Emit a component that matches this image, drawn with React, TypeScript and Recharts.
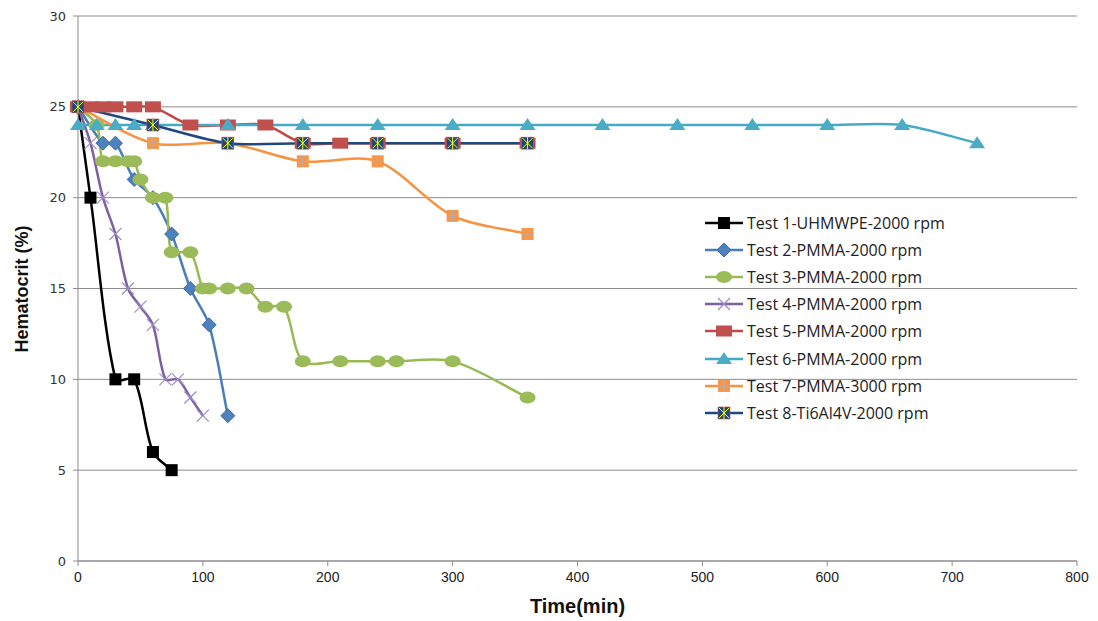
import React from "react";
import {
  LineChart,
  Line,
  XAxis,
  YAxis,
  CartesianGrid,
  Label,
} from "recharts";

const xTicks = [0, 100, 200, 300, 400, 500, 600, 700, 800];
const yTicks = [0, 5, 10, 15, 20, 25, 30];

const t1 = [0, 10, 30, 45, 60, 75];
const v1 = [25, 20, 10, 10, 6, 5];
const t2 = [0, 20, 30, 45, 60, 75, 90, 105, 120];
const v2 = [25, 23, 23, 21, 20, 18, 15, 13, 8];
const t3 = [0, 15, 20, 30, 40, 45, 50, 60, 70, 75, 90, 100, 105, 120, 135, 150, 165, 180, 210, 240, 255, 300, 360];
const v3 = [25, 24, 22, 22, 22, 22, 21, 20, 20, 17, 17, 15, 15, 15, 15, 14, 14, 11, 11, 11, 11, 11, 9];
const t4 = [0, 10, 20, 30, 40, 50, 60, 70, 80, 90, 100];
const v4 = [25, 23, 20, 18, 15, 14, 13, 10, 10, 9, 8];
const t5 = [0, 10, 20, 30, 45, 60, 90, 120, 150, 180, 210, 240, 300, 360];
const v5 = [25, 25, 25, 25, 25, 25, 24, 24, 24, 23, 23, 23, 23, 23];
const t6 = [0, 15, 30, 45, 60, 120, 180, 240, 300, 360, 420, 480, 540, 600, 660, 720];
const v6 = [24, 24, 24, 24, 24, 24, 24, 24, 24, 24, 24, 24, 24, 24, 24, 23];
const t7 = [0, 60, 120, 180, 240, 300, 360];
const v7 = [25, 23, 23, 22, 22, 19, 18];
const t8 = [0, 60, 120, 180, 240, 300, 360];
const v8 = [25, 24, 23, 23, 23, 23, 23];

const names = [
  "Test 1-UHMWPE-2000 rpm",
  "Test 2-PMMA-2000 rpm",
  "Test 3-PMMA-2000 rpm",
  "Test 4-PMMA-2000 rpm",
  "Test 5-PMMA-2000 rpm",
  "Test 6-PMMA-2000 rpm",
  "Test 7-PMMA-3000 rpm",
  "Test 8-Ti6Al4V-2000 rpm",
];

const toRows = (ts: number[], vs: number[]) => ts.map((t, i) => ({ t, v: vs[i] }));

// smoothed line like excel: tangent from neighbours, scaled by chord lengths
const smooth = (context: any) => {
  let pts: number[][] = [];
  const dist = (a: number[], b: number[]) => Math.hypot(b[0] - a[0], b[1] - a[1]);
  return {
    areaStart() {},
    areaEnd() {},
    lineStart() {
      pts = [];
    },
    point(x: number, y: number) {
      pts.push([+x, +y]);
    },
    lineEnd() {
      if (!pts.length) return;
      context.moveTo(pts[0][0], pts[0][1]);
      for (let i = 0; i < pts.length - 1; i++) {
        const p0 = pts[i - 1] || pts[i];
        const p1 = pts[i];
        const p2 = pts[i + 1];
        const p3 = pts[i + 2] || pts[i + 1];
        const d01 = dist(p0, p1);
        const d12 = dist(p1, p2);
        const d23 = dist(p2, p3);
        const a = d01 + d12 > 0 ? d12 / (d01 + d12) / 2 : 0;
        const b = d12 + d23 > 0 ? d12 / (d12 + d23) / 2 : 0;
        context.bezierCurveTo(
          p1[0] + (p2[0] - p0[0]) * a * 0.6,
          p1[1] + (p2[1] - p0[1]) * a * 0.6,
          p2[0] - (p3[0] - p1[0]) * b * 0.6,
          p2[1] - (p3[1] - p1[1]) * b * 0.6,
          p2[0],
          p2[1]
        );
      }
    },
  };
};

function Marker({ kind, cx, cy }: { kind: number; cx: number; cy: number }) {
  switch (kind) {
    case 0:
      return <rect x={cx - 6} y={cy - 6} width={12} height={12} fill="#000" />;
    case 1:
      return (
        <polygon
          points={`${cx},${cy - 7} ${cx + 7},${cy} ${cx},${cy + 7} ${cx - 7},${cy}`}
          fill="#4F81BD"
          stroke="#3A6CA8"
        />
      );
    case 2:
      return <ellipse cx={cx} cy={cy} rx={8} ry={6} fill="#9BBB59" />;
    case 3:
      return (
        <g stroke="#A08CC4" strokeWidth={1.2}>
          <line x1={cx - 6} y1={cy - 6} x2={cx + 6} y2={cy + 6} />
          <line x1={cx - 6} y1={cy + 6} x2={cx + 6} y2={cy - 6} />
        </g>
      );
    case 4:
      return <rect x={cx - 8} y={cy - 5.5} width={16} height={11} fill="#C0504D" />;
    case 5:
      return (
        <polygon
          points={`${cx},${cy - 7} ${cx + 8},${cy + 5} ${cx - 8},${cy + 5}`}
          fill="#4BACC6"
        />
      );
    case 6:
      return (
        <g>
          <rect x={cx - 6} y={cy - 6} width={12} height={12} fill="#F79646" />
          <line x1={cx} y1={cy - 6} x2={cx} y2={cy + 6} stroke="#9DB3CF" />
          <line x1={cx - 6} y1={cy} x2={cx + 6} y2={cy} stroke="#9DB3CF" />
        </g>
      );
    default:
      return (
        <g>
          <rect x={cx - 6} y={cy - 6} width={12} height={12} fill="#1F497D" stroke="#C0504D" strokeWidth={0.6} />
          <g stroke="#FFFF00" strokeWidth={1}>
            <line x1={cx - 5} y1={cy - 5} x2={cx + 5} y2={cy + 5} />
            <line x1={cx - 5} y1={cy + 5} x2={cx + 5} y2={cy - 5} />
            <line x1={cx} y1={cy - 6} x2={cx} y2={cy + 6} />
          </g>
        </g>
      );
  }
}

const series = [
  { data: toRows(t1, v1), color: "#000000" },
  { data: toRows(t2, v2), color: "#4A7EBB" },
  { data: toRows(t3, v3), color: "#98B954" },
  { data: toRows(t4, v4), color: "#7D60A0" },
  { data: toRows(t5, v5), color: "#BE4B48" },
  { data: toRows(t6, v6), color: "#46AAC5" },
  { data: toRows(t7, v7), color: "#F69240" },
  { data: toRows(t8, v8), color: "#1F497D" },
];

const LegendBox = () => (
  <div
    style={{
      position: "absolute",
      left: 696,
      top: 201,
      fontFamily: "'Open Sans', sans-serif",
      fontSize: 16,
      color: "#222",
    }}
  >
    {names.map((n, i) => (
      <div key={n} style={{ height: 27.2, display: "flex", alignItems: "center", whiteSpace: "nowrap" }}>
        <svg width={40} height={16} style={{ marginRight: 3 }}>
          <line x1={1} y1={8} x2={39} y2={8} stroke={series[i].color} strokeWidth={2.5} />
          <Marker kind={i} cx={20} cy={8} />
        </svg>
        <span>{n}</span>
      </div>
    ))}
  </div>
);

export default function App() {
  return (
    <div style={{ position: "relative", width: 1090, height: 613, background: "#fff" }}>
      <LineChart
        width={1090}
        height={613}
        margin={{ top: 8, right: 21, left: 20, bottom: 25 }}
      >
        <CartesianGrid vertical={false} stroke="#8C8C8C" />
        <XAxis
          type="number"
          dataKey="t"
          domain={[0, 800]}
          ticks={xTicks}
          height={35}
          tickSize={5}
          tickMargin={6}
          stroke="#8C8C8C"
          tick={{ fill: "#222", fontSize: 14, fontFamily: "'Liberation Sans Narrow', 'Liberation Sans', sans-serif" }}
          allowDuplicatedCategory={false}
        >
          <Label
            value="Time(min)"
            position="insideBottom"
            offset={-17}
            style={{ fontSize: 20, fontWeight: 700, fill: "#111", fontFamily: "'Liberation Sans Narrow', 'Liberation Sans', sans-serif" }}
          />
        </XAxis>
        <YAxis
          type="number"
          domain={[0, 30]}
          ticks={yTicks}
          width={50}
          tickSize={5}
          tickMargin={7}
          stroke="#8C8C8C"
          tick={{ fill: "#333", fontSize: 13, fontFamily: "'DejaVu Sans', sans-serif" }}
        >
          <Label
            content={() => (
              <text
                x={14}
                y={281}
                transform="rotate(-90 14 281)"
                textAnchor="middle"
                dominantBaseline="central"
                style={{ fontSize: 18, fontWeight: 700, fill: "#111", fontFamily: "'Liberation Sans Narrow', 'Liberation Sans', sans-serif" }}
              >
                Hematocrit (%)
              </text>
            )}
          />
        </YAxis>
        {series.map((s, i) => (
          <Line
            key={names[i]}
            name={names[i]}
            data={s.data}
            dataKey="v"
            type={smooth as any}
            stroke={s.color}
            strokeWidth={2.5}
            isAnimationActive={false}
            activeDot={false}
            dot={(p: any) => <Marker key={`${i}-${p.index}`} kind={i} cx={p.cx} cy={p.cy} />}
          />
        ))}
      </LineChart>
      <LegendBox />
    </div>
  );
}
